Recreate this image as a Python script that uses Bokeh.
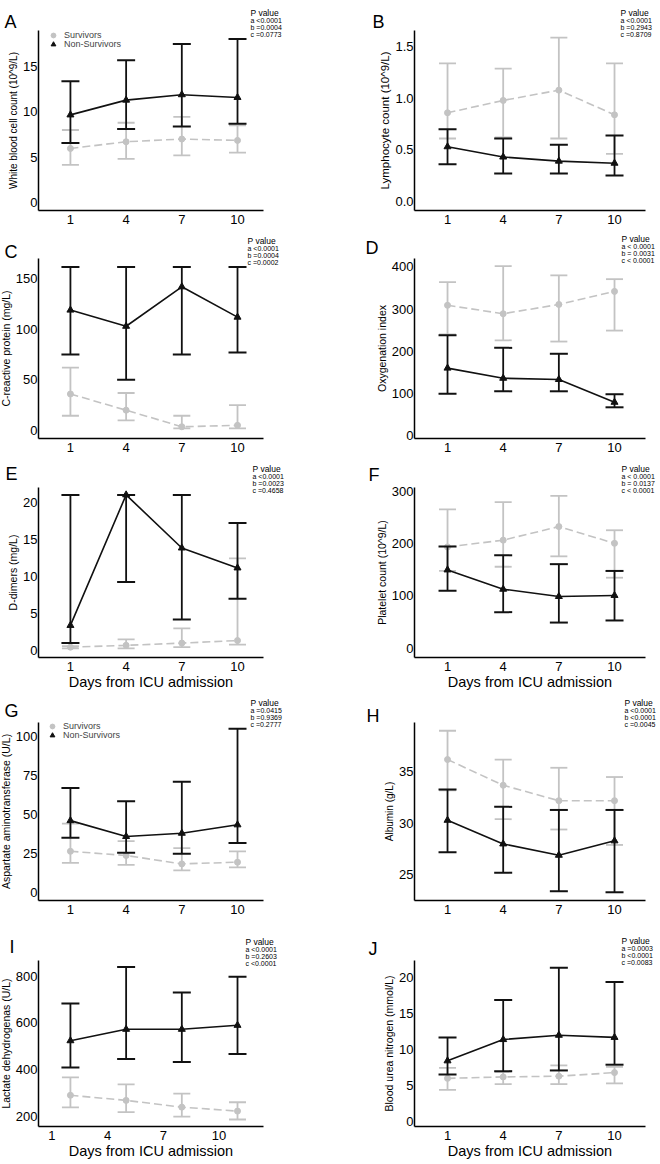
from bokeh.plotting import figure
from bokeh.models import Range1d, FixedTicker, Label, Legend, LegendItem
from bokeh.layouts import column, row
from bokeh.embed import file_html
from bokeh.resources import INLINE

# ---------------- data ----------------
days = [1, 4, 7, 10]
group_names = ["Survivors", "Non-Survivors"]
x_title = "Days from ICU admission"
panel_letters = ["A", "B", "C", "D", "E", "F", "G", "H", "I", "J"]
y_titles = [
    "White blood cell count (10^9/L)",
    "Lymphocyte count (10^9/L)",
    "C-reactive protein (mg/L)",
    "Oxygenation index",
    "D-dimers (mg/L)",
    "Platelet count (10^9/L)",
    "Aspartate aminotransferase (U/L)",
    "Albumin (g/L)",
    "Lactate dehydrogenas (U/L)",
    "Blood urea nitrogen (mmol/L)",
]
p_values = [
    ["a <0.0001", "b =0.0004", "c =0.0773"],
    ["a <0.0001", "b =0.2943", "c =0.8709"],
    ["a <0.0001", "b =0.0004", "c =0.0002"],
    ["a < 0.0001", "b = 0.0031", "c < 0.0001"],
    ["a <0.0001", "b =0.0023", "c =0.4658"],
    ["a < 0.0001", "b = 0.0137", "c < 0.0001"],
    ["a =0.0415", "b =0.9369", "c =0.2777"],
    ["a <0.0001", "b <0.0001", "c =0.0045"],
    ["a <0.0001", "b =0.2603", "c <0.0001"],
    ["a =0.0003", "b <0.0001", "c =0.0083"],
]

# A  White blood cell count
wbc_surv = [5.96, 6.7, 7.0, 6.85]
wbc_surv_lo = [4.15, 4.8, 5.2, 5.5]
wbc_surv_hi = [8.0, 8.8, 9.45, 8.5]
wbc_non = [9.67, 11.3, 11.9, 11.6]
wbc_non_lo = [6.55, 8.1, 8.4, 8.7]
wbc_non_hi = [13.4, 15.7, 17.5, 18.05]
# B  Lymphocyte count
lym_surv = [0.86, 0.98, 1.08, 0.84]
lym_surv_lo = [0.61, 0.62, 0.61, 0.46]
lym_surv_hi = [1.34, 1.29, 1.59, 1.34]
lym_non = [0.53, 0.43, 0.39, 0.37]
lym_non_lo = [0.36, 0.27, 0.27, 0.25]
lym_non_hi = [0.70, 0.61, 0.55, 0.64]
# C  C-reactive protein
crp_surv = [36, 20, 3.6, 5]
crp_surv_lo = [14.5, 10, 2, 2]
crp_surv_hi = [62, 37, 14.5, 25]
crp_non = [119, 103, 142, 112]
crp_non_lo = [75, 50, 75, 77]
crp_non_hi = [161.5, 161.5, 161.5, 161.5]
# D  Oxygenation index
oxy_surv = [309, 289, 311, 342]
oxy_surv_lo = [240, 226, 223, 249]
oxy_surv_hi = [364, 402, 380, 371]
oxy_non = [160, 136, 133, 79]
oxy_non_lo = [99, 105, 105, 67]
oxy_non_hi = [238, 208, 194, 98]
# E  D-dimers
ddi_surv = [0.45, 0.7, 1.0, 1.35]
ddi_surv_lo = [0.3, 0.3, 0.45, 0.8]
ddi_surv_hi = [0.6, 1.5, 3.0, 12.5]
ddi_non = [3.4, 21.1, 13.9, 11.2]
ddi_non_lo = [1.0, 9.3, 4.2, 7.0]
ddi_non_hi = [21.1, 21.1, 21.1, 17.3]
# F  Platelet count
plt_surv = [194, 207, 233, 201]
plt_surv_lo = [148, 156, 176, 135]
plt_surv_hi = [266, 280, 292, 226]
plt_non = [150, 113, 99, 101]
plt_non_lo = [110, 69, 49, 53]
plt_non_hi = [195, 178, 161, 148]
# G  Aspartate aminotransferase
ast_surv = [26.3, 23.6, 18.2, 19.3]
ast_surv_lo = [18.8, 17.6, 14, 16]
ast_surv_hi = [44, 32.8, 28.3, 26.3]
ast_non = [46, 35.8, 37.9, 43.3]
ast_non_lo = [35, 25.3, 24.8, 31.7]
ast_non_hi = [67, 58.5, 71, 105]
# H  Albumin
alb_surv = [36.2, 33.7, 32.2, 32.2]
alb_surv_lo = [33.2, 30.4, 29.4, 27.9]
alb_surv_hi = [39.0, 36.2, 35.4, 34.5]
alb_non = [30.3, 28.0, 26.9, 28.3]
alb_non_lo = [27.2, 25.2, 23.4, 23.3]
alb_non_hi = [33.3, 31.6, 31.3, 31.3]
# I  Lactate dehydrogenase
ldh_surv = [289, 267, 238, 221]
ldh_surv_lo = [237, 217, 197, 185]
ldh_surv_hi = [366, 336, 296, 259]
ldh_non = [523, 572, 572, 589]
ldh_non_lo = [408, 445, 432, 466]
ldh_non_hi = [683, 839, 730, 797]
# J  Blood urea nitrogen
bun_surv = [6.0, 6.2, 6.3, 6.8]
bun_surv_lo = [4.4, 5.2, 5.2, 5.3]
bun_surv_hi = [7.45, 6.9, 7.8, 7.6]
bun_non = [8.44, 11.4, 12.0, 11.7]
bun_non_lo = [6.55, 7.0, 7.1, 7.9]
bun_non_hi = [11.7, 16.9, 21.4, 19.4]

y_ticks = [
    [0, 5, 10, 15],
    [0, 0.5, 1.0, 1.5],
    [0, 50, 100, 150],
    [0, 100, 200, 300, 400],
    [0, 5, 10, 15, 20],
    [0, 100, 200, 300],
    [0, 25, 50, 75, 100],
    [25, 30, 35],
    [200, 400, 600, 800],
    [0, 5, 10, 15, 20],
]
y_tick_labels_B = ["0.0", "0.5", "1.0", "1.5"]

series = [
    (wbc_surv, wbc_surv_lo, wbc_surv_hi, wbc_non, wbc_non_lo, wbc_non_hi),
    (lym_surv, lym_surv_lo, lym_surv_hi, lym_non, lym_non_lo, lym_non_hi),
    (crp_surv, crp_surv_lo, crp_surv_hi, crp_non, crp_non_lo, crp_non_hi),
    (oxy_surv, oxy_surv_lo, oxy_surv_hi, oxy_non, oxy_non_lo, oxy_non_hi),
    (ddi_surv, ddi_surv_lo, ddi_surv_hi, ddi_non, ddi_non_lo, ddi_non_hi),
    (plt_surv, plt_surv_lo, plt_surv_hi, plt_non, plt_non_lo, plt_non_hi),
    (ast_surv, ast_surv_lo, ast_surv_hi, ast_non, ast_non_lo, ast_non_hi),
    (alb_surv, alb_surv_lo, alb_surv_hi, alb_non, alb_non_lo, alb_non_hi),
    (ldh_surv, ldh_surv_lo, ldh_surv_hi, ldh_non, ldh_non_lo, ldh_non_hi),
    (bun_surv, bun_surv_lo, bun_surv_hi, bun_non, bun_non_lo, bun_non_hi),
]

# ---------------- layout / style ----------------
y_ranges = [(-0.9, 19.0), (-0.09, 1.66), (-8, 170), (-7, 420), (-0.95, 22.1),
            (-18, 308), (-5.3, 109), (22.5, 39.8), (155, 867), (-0.7, 22.4)]

GREY = "#c3c3c3"
BLACK = "#111111"
FONT = "Liberation Sans"

# rows: (canvas page top, canvas height, plot-area page top, plot-area page bottom)
ROWS = [(0, 232, 30, 210), (232, 224, 258, 438), (456, 237, 487, 657),
        (693, 232, 722, 900), (925, 237, 960, 1126)]
# cols: (canvas page left, width, plot-area page left, plot-area page right, x range)
COLS = [(0, 330, 38, 263, (-0.72, 11.40)), (330, 328, 414, 645, (-0.78, 11.67))]

# page positions of panel letters (x, baseline) and P-value blocks (x, baseline)
letter_pos = [(4, 21), (372, 21), (4, 251), (365, 247), (5, 473),
              (368, 474), (4, 710), (366, 715), (9, 946), (368, 948)]
pval_pos = [(250, 12), (620, 12), (247, 240), (621, 238), (252, 468),
            (621, 468), (250, 702), (624, 702), (245, 941), (621, 940)]
# legend marker centres (page) per panel
legend_pos = [[(53, 35), (53, 44)], None, None, None, None, None,
              [(52, 726), (52, 735)], None, None, None]
x_label_shift = [0, 0, 0, 0, 0, 0, 0, 0, -1, 0]
with_x_title = [False, False, False, False, True, True, False, False, True, True]
y_title_size = ["10px", "11.5px", "10.5px", "10.5px", "10.5px", "10.5px",
                "10.5px", "10px", "10.5px", "10.5px"]
GW, GH, ITEM_H = 16, 12, 12


def build_panel(i):
    r, c = divmod(i, 2)
    top, h, ft, fb = ROWS[r]
    left, w, fl, fr, xr = COLS[c]
    yr = y_ranges[i]
    xpp = (xr[1] - xr[0]) / (fr - fl)
    ypp = (yr[1] - yr[0]) / (fb - ft)
    cx0 = xr[0] - (fl - left) * xpp
    cx1 = xr[1] + (left + w - fr) * xpp
    cy0 = yr[0] - (top + h - fb) * ypp
    cy1 = yr[1] + (ft - top) * ypp

    def at(px, py):
        return cx0 + (px - left) * xpp, cy1 - (py - top) * ypp

    p = figure(width=w, height=h, x_range=Range1d(cx0, cx1), y_range=Range1d(cy0, cy1),
               output_backend="svg", toolbar_location=None,
               min_border_left=0, min_border_right=0, min_border_top=0, min_border_bottom=0)
    p.outline_line_color = None
    p.xgrid.visible = False
    p.ygrid.visible = False

    s_m, s_lo, s_hi, n_m, n_lo, n_hi = series[i]
    # survivors (grey, dashed)
    p.segment(x0=days, y0=s_lo, x1=days, y1=s_hi, line_color=GREY, line_width=1.8)
    p.scatter(x=days + days, y=s_lo + s_hi, marker="dash", size=17,
              line_color=GREY, line_width=1.8)
    p.line(days, s_m, line_color=GREY, line_width=1.6, line_dash="8 4")
    rs = p.scatter(days, s_m, marker="circle", size=6, fill_color=GREY, line_color=GREY)
    # non-survivors (black, solid)
    p.segment(x0=days, y0=n_lo, x1=days, y1=n_hi, line_color=BLACK, line_width=1.8)
    p.scatter(x=days + days, y=n_lo + n_hi, marker="dash", size=18,
              line_color=BLACK, line_width=2)
    p.line(days, n_m, line_color=BLACK, line_width=1.6)
    rn = p.scatter(days, n_m, marker="triangle", size=7, fill_color=BLACK, line_color=BLACK)

    xa, ya = p.xaxis[0], p.yaxis[0]
    for ax in (xa, ya):
        ax.axis_line_color = "black"
        ax.axis_line_width = 1.5
        ax.major_tick_line_color = None
        ax.minor_tick_line_color = None
        ax.major_tick_out = 0
        ax.major_tick_in = 0
        ax.minor_tick_out = 0
        ax.minor_tick_in = 0
        ax.major_label_text_font = FONT
        ax.major_label_text_font_size = "13px"
        ax.major_label_text_color = "black"
        ax.axis_label_text_font = FONT
        ax.axis_label_text_font_style = "normal"
        ax.axis_label_text_color = "black"

    # axes drawn at the plot-area edges, lines limited to the data area
    xa.fixed_location = yr[0]
    xa.bounds = xr
    ya.fixed_location = xr[0]
    ya.bounds = yr

    shift = x_label_shift[i]
    ticks = [d + shift for d in days]
    xa.ticker = FixedTicker(ticks=ticks)
    xa.major_label_overrides = {t: str(d) for t, d in zip(ticks, days)}
    xa.major_label_standoff = 4
    if with_x_title[i]:
        xa.axis_label = x_title
        xa.axis_label_text_font_size = "14.5px"
        xa.axis_label_standoff = 0

    ya.ticker = FixedTicker(ticks=y_ticks[i])
    if i == 1:
        ya.major_label_overrides = dict(zip(y_ticks[i], y_tick_labels_B))
    ya.major_label_standoff = 1
    ya.axis_label = y_titles[i]
    ya.axis_label_text_font_size = y_title_size[i]
    ya.axis_label_standoff = 1

    # panel letter
    lx, ly = at(*letter_pos[i])
    p.add_layout(Label(x=lx, y=ly, text=panel_letters[i], text_font=FONT,
                       text_font_size="18px", text_baseline="alphabetic",
                       text_align="left", text_color="black"))
    # P-value block
    px, py = pval_pos[i]
    tx, ty = at(px, py)
    p.add_layout(Label(x=tx, y=ty, text="P value", text_font=FONT,
                       text_font_size="8.5px", text_baseline="alphabetic",
                       text_align="left", text_color="black"))
    for k, line_txt in enumerate(p_values[i]):
        tx, ty = at(px, py + 7.5 + 7.3 * k)
        p.add_layout(Label(x=tx, y=ty, text=line_txt, text_font=FONT,
                           text_font_size="7px", text_baseline="alphabetic",
                           text_align="left", text_color="black"))

    if legend_pos[i] is not None:
        for (mx, my), rend, name in zip(legend_pos[i], [rs, rn], group_names):
            vx = mx - left - GW / 2
            vy = (top + h) - (my + ITEM_H / 2)
            leg = Legend(items=[LegendItem(label=name, renderers=[rend])],
                         location=(vx, vy), orientation="vertical",
                         border_line_color=None, background_fill_alpha=0,
                         label_text_font=FONT, label_text_font_size="9px",
                         glyph_width=GW, glyph_height=GH, label_height=9,
                         spacing=0, padding=0, margin=0, label_standoff=3)
            p.add_layout(leg)
    return p


figs = [build_panel(i) for i in range(10)]
layout = column(*[row(figs[2 * r], figs[2 * r + 1]) for r in range(5)])

open("out.html", "w").write(file_html(layout, INLINE))
